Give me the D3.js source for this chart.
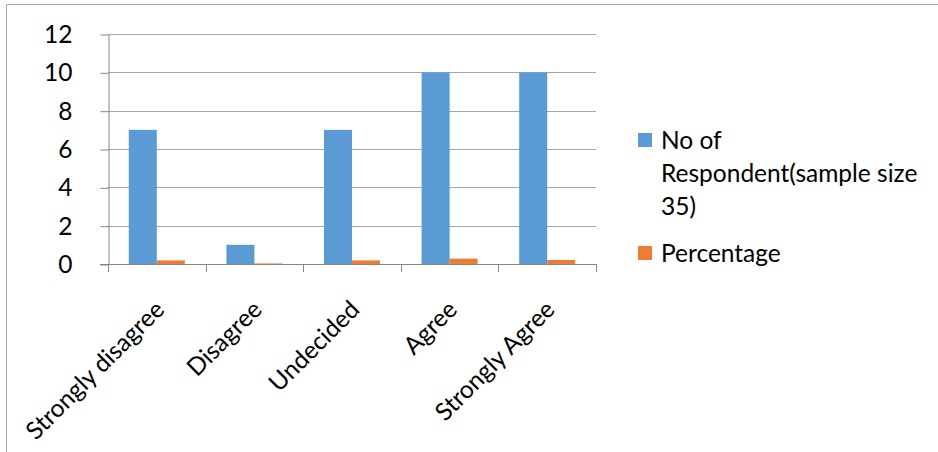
<!DOCTYPE html>
<html>
<head>
<meta charset="utf-8">
<script src="https://cdn.jsdelivr.net/npm/d3@7"></script>
<style>
  body { margin: 0; background: #fff; }
  svg { display: block; font-family: Lato, "Open Sans", sans-serif; }
</style>
</head>
<body>
<svg id="chart"></svg>
<script>
// chart data
const categories = ["Strongly disagree", "Disagree", "Undecided", "Agree", "Strongly Agree"];
const respondents = [7, 1, 7, 10, 10];
const percentage = [0.19, 0.03, 0.19, 0.28, 0.21];
const yTicks = [0, 2, 4, 6, 8, 10, 12];
const seriesNames = ["No of Respondent(sample size 35)", "Percentage"];
const legendLines = [["No of", "Respondent(sample size", "35)"], ["Percentage"]];
const colors = ["#5b9bd5", "#ed7d31"];

const width = 938;
const height = 452;
const fontSize = "24.5px";

const svg = d3.select("#chart")
    .attr("width", width)
    .attr("height", height);

// outer frame (left and top edges only are visible)
svg.append("line")
    .attr("x1", 6.5).attr("x2", 6.5).attr("y1", 4.5).attr("y2", height)
    .attr("stroke", "#a6a6a6");
svg.append("line")
    .attr("x1", 6.5).attr("x2", width).attr("y1", 4.5).attr("y2", 4.5)
    .attr("stroke", "#a6a6a6");

// plot area
const plot = { left: 108, right: 596, top: 34, bottom: 264 };

const x0 = d3.scaleBand()
    .domain(categories)
    .range([plot.left, plot.right])
    .paddingInner(0.426)
    .paddingOuter(0.213);

const x1 = d3.scaleBand()
    .domain([0, 1])
    .range([0, x0.bandwidth()]);

const y = d3.scaleLinear()
    .domain([0, 12])
    .range([plot.bottom, plot.top]);

// gridlines
svg.append("g")
    .selectAll("line")
    .data(yTicks.filter(d => d > 0))
    .join("line")
    .attr("x1", plot.left)
    .attr("x2", plot.right)
    .attr("y1", d => Math.round(y(d)) + 0.5)
    .attr("y2", d => Math.round(y(d)) + 0.5)
    .attr("stroke", "#a6a6a6");

// y axis
const yAxis = svg.append("g")
    .attr("transform", `translate(${plot.left + 0.5},0.5)`)
    .call(d3.axisLeft(y).tickValues(yTicks).tickSize(8).tickPadding(28).tickSizeOuter(0));
yAxis.select(".domain").attr("stroke", "#868686");
yAxis.selectAll(".tick line").attr("stroke", "#868686");
yAxis.selectAll(".tick text")
    .attr("fill", "#000")
    .style("font-size", fontSize)
    .style("font-family", "Lato, 'Open Sans', sans-serif");

// bars
const groups = svg.append("g")
    .selectAll("g")
    .data(categories)
    .join("g")
    .attr("transform", d => `translate(${x0(d)},0)`);

groups.selectAll("rect")
    .data((d, i) => [respondents[i], percentage[i]])
    .join("rect")
    .attr("x", (d, j) => x1(j))
    .attr("y", d => y(d))
    .attr("width", x1.bandwidth())
    .attr("height", d => y(0) - y(d))
    .attr("fill", (d, j) => colors[j]);

// x axis line and ticks
const xAxisG = svg.append("g");
xAxisG.append("line")
    .attr("x1", plot.left - 8)
    .attr("x2", plot.right + 1)
    .attr("y1", plot.bottom + 0.5)
    .attr("y2", plot.bottom + 0.5)
    .attr("stroke", "#868686");
const tickXs = categories.map(c => x0(c) - x0.step() * x0.paddingInner() / 2).concat([plot.right]);
xAxisG.selectAll("line.tk")
    .data(tickXs)
    .join("line")
    .attr("class", "tk")
    .attr("x1", d => Math.round(d) + 0.5)
    .attr("x2", d => Math.round(d) + 0.5)
    .attr("y1", plot.bottom)
    .attr("y2", plot.bottom + 8)
    .attr("stroke", "#868686");

// rotated category labels
xAxisG.selectAll("text")
    .data(categories)
    .join("text")
    .attr("transform", d => `translate(${x0(d) + x0.bandwidth() / 2 + 3},305) rotate(-45)`)
    .attr("text-anchor", "end")
    .attr("dy", "0.35em")
    .style("font-size", fontSize)
    .text(d => d);

// legend
const legend = svg.append("g");
const legendTop = [140, 253];
legendLines.forEach((lines, i) => {
    legend.append("rect")
        .attr("x", 638)
        .attr("y", legendTop[i] - 7)
        .attr("width", 14)
        .attr("height", 14)
        .attr("fill", colors[i]);
    const t = legend.append("text")
        .attr("x", 661)
        .attr("y", legendTop[i])
        .style("font-size", fontSize);
    t.selectAll("tspan")
        .data(lines)
        .join("tspan")
        .attr("x", 661)
        .attr("dy", (d, k) => k === 0 ? "0.35em" : "33px")
        .text(d => d);
    t.append("title").text(seriesNames[i]);
});
</script>
</body>
</html>
